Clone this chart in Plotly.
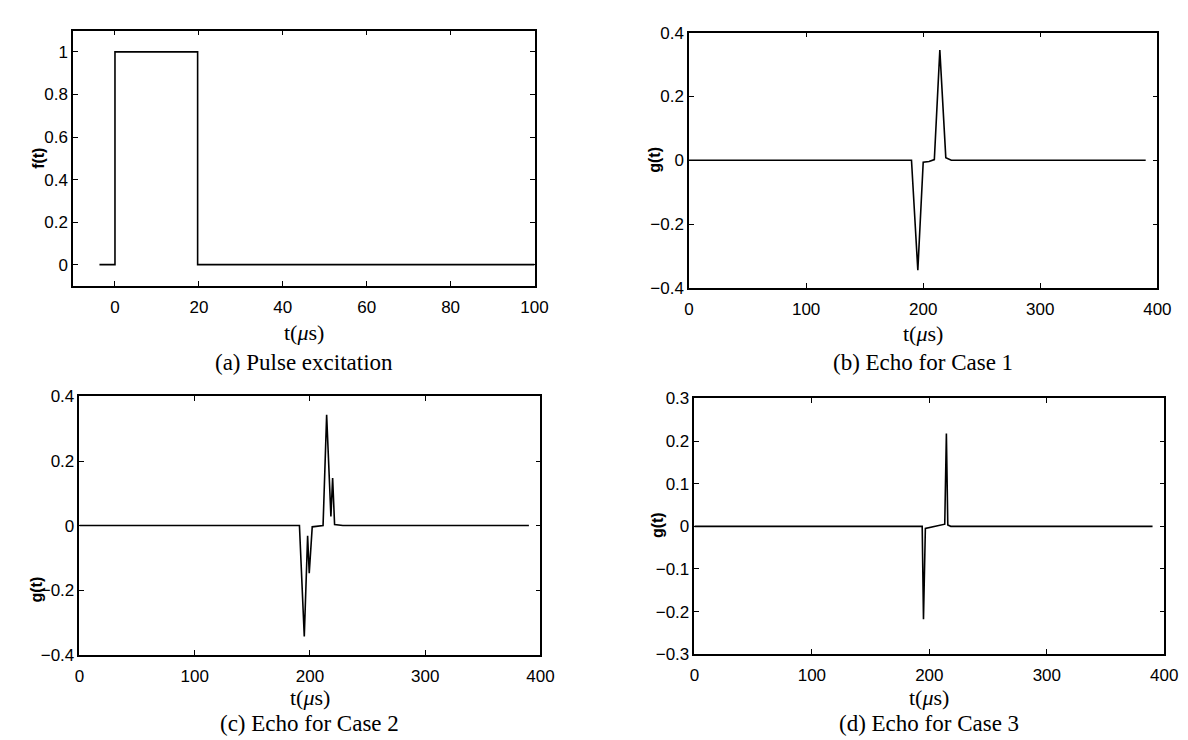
import plotly.graph_objects as go

# ---- data ----
t_a = [-3.7, 0, 0, 19.7, 19.7, 100]
f_a = [0, 0, 1, 1, 0, 0]

t_b = [0, 190.0, 195.4, 200.0, 205.0, 209.5, 214.2, 219.3, 224.0, 390]
g_b = [0, 0, -0.345, -0.006, -0.004, 0.002, 0.345, 0.008, 0.0, 0]

t_c = [0, 190.9, 195.1, 198.0, 199.4, 202.0, 211.4, 214.5, 218.2, 219.7, 221.4, 228.6, 390]
g_c = [0, 0, -0.344, -0.032, -0.148, -0.004, 0.0, 0.343, 0.028, 0.147, 0.003, 0, 0]

t_d = [0, 193.9, 195.0, 196.6, 213.1, 214.5, 215.7, 218.2, 390]
g_d = [0, 0, -0.218, -0.005, 0.005, 0.218, 0.003, 0, 0]

captions = ["(a) Pulse excitation", "(b) Echo for Case 1",
            "(c) Echo for Case 2", "(d) Echo for Case 3"]
ylabels = ["f(t)", "g(t)", "g(t)", "g(t)"]
xlabel = "t(<i>μ</i>s)"

W, H = 1188, 740
# pixel boxes (left, right, top, bottom)
boxes = [(61, 530, 14, 276), (687, 1163, 16, 278),
         (67.5, 536, 389.5, 654.4), (692.5, 1170, 391.5, 654)]
ylab_pos = [(26, 145), (652, 147), (24, 588), (655, 522)]
xlab_dy = [48, 47, 44, 44]
cap_y = [355, 355, None, None]   # None -> anchored to the page bottom
xranges = [[-10, 100], [0, 400], [0, 400], [0, 400]]
xticks = [[0, 20, 40, 60, 80, 100], [0, 100, 200, 300, 400],
          [0, 100, 200, 300, 400], [0, 100, 200, 300, 400]]
yranges = [[-0.1, 1.1], [-0.4, 0.4], [-0.4, 0.4], [-0.3, 0.3]]
yticks = [[0, 0.2, 0.4, 0.6, 0.8, 1], [-0.4, -0.2, 0, 0.2, 0.4],
          [-0.4, -0.2, 0, 0.2, 0.4], [-0.3, -0.2, -0.1, 0, 0.1, 0.2, 0.3]]

series = [(t_a, f_a), (t_b, g_b), (t_c, g_c), (t_d, g_d)]


def fmt(v):
    if v == 0:
        return "0"
    s = ("%g" % v)
    return s.replace("-", "\u2212")


sans = "Liberation Sans, Arial"
serif = "Liberation Serif, Times New Roman"

fig = go.Figure()
for i, ((x, y), (l, r, t, b)) in enumerate(zip(series, boxes)):
    n = "" if i == 0 else str(i + 1)
    fig.add_trace(go.Scatter(x=x, y=y, mode="lines",
                             line=dict(color="black", width=1.6),
                             xaxis="x" + n, yaxis="y" + n, showlegend=False))
    xd = [l / W, r / W]
    yd = [1 - b / H, 1 - t / H]
    common = dict(showline=True, linecolor="black", linewidth=1.5, mirror="ticks",
                  ticks="inside", ticklen=5, tickwidth=1, tickcolor="black",
                  showgrid=False, zeroline=False,
                  tickfont=dict(family=sans, size=17, color="black"))
    fig.update_layout(**{
        "xaxis" + n: dict(domain=xd, range=xranges[i], tickvals=xticks[i],
                          ticktext=[fmt(v) for v in xticks[i]],
                          ticklabelstandoff=5,
                          anchor="y" + n, **common),
        "yaxis" + n: dict(domain=yd, range=yranges[i], tickvals=yticks[i],
                          ticktext=[fmt(v) for v in yticks[i]],
                          anchor="x" + n, **common),
    })
    # x axis title
    fig.add_annotation(x=(l + r) / 2 / W, y=1 - (b + xlab_dy[i]) / H, xref="paper", yref="paper",
                       text=xlabel, showarrow=False, xanchor="center", yanchor="middle",
                       font=dict(family=serif, size=22, color="black"))
    # y axis title
    px, py = ylab_pos[i]
    fig.add_annotation(x=px / W, y=1 - py / H, xref="paper", yref="paper",
                       text="<b>" + ylabels[i] + "</b>", showarrow=False, textangle=-90,
                       xanchor="center", yanchor="middle",
                       font=dict(family=sans, size=16, color="black"))
    # caption
    if cap_y[i] is None:
        cy, ya = 0.0, "bottom"
    else:
        cy, ya = 1 - cap_y[i] / H, "middle"
    fig.add_annotation(x=(l + r) / 2 / W, y=cy, xref="paper", yref="paper",
                       text=captions[i], showarrow=False, xanchor="center", yanchor=ya,
                       font=dict(family=serif, size=23, color="black"))

fig.update_layout(width=W, height=H, margin=dict(l=0, r=0, t=0, b=0),
                  plot_bgcolor="white", paper_bgcolor="white")
fig.write_html("out.html")
